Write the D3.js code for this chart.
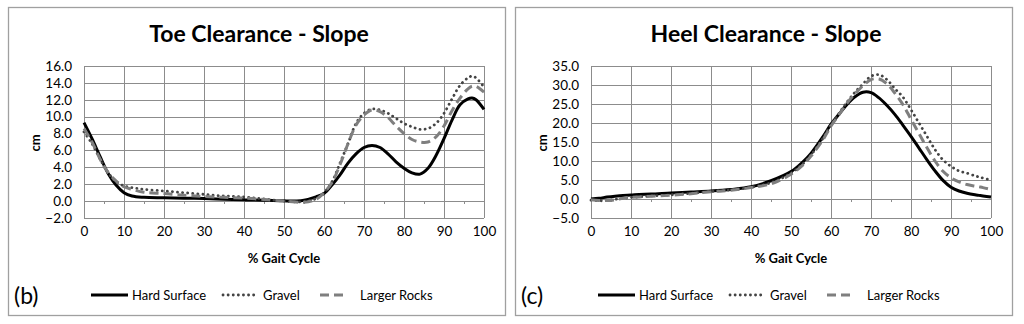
<!DOCTYPE html>
<html>
<head>
<meta charset="utf-8">
<script src="https://cdn.jsdelivr.net/npm/d3@7"></script>
<style>
  body { margin: 0; background: #fff; }
  text { font-family: Lato, "Open Sans", sans-serif; fill: #000; }
</style>
</head>
<body>
<div id="chart"></div>
<script>
//% gait cycle sample points (shared by every series)
const gaitPct = [0, 2, 4, 6, 8, 10, 12, 15, 20, 25, 30, 35, 40, 45, 50, 53, 55, 58, 60, 62, 64, 66, 68, 70, 72, 74, 76, 78, 80, 82, 84, 86, 88, 90, 92, 94, 96, 97, 98, 100];

//toe clearance (cm)
const toeHard = [9.3, 7.4, 5.3, 3.3, 1.9, 1.0, 0.6, 0.45, 0.4, 0.35, 0.3, 0.22, 0.15, 0.1, 0.03, 0.02, 0.1, 0.5, 0.9, 1.9, 3.1, 4.5, 5.6, 6.35, 6.6, 6.35, 5.6, 4.65, 3.9, 3.35, 3.2, 3.9, 5.4, 7.4, 9.6, 11.4, 12.1, 12.2, 12.0, 10.85];
const toeGravel = [8.2, 6.8, 5.0, 3.4, 2.3, 1.8, 1.6, 1.4, 1.2, 1.0, 0.8, 0.6, 0.5, 0.25, 0.0, -0.1, -0.05, 0.3, 1.0, 2.3, 4.5, 6.8, 9.2, 10.4, 10.9, 10.8, 10.4, 9.8, 9.2, 8.8, 8.5, 8.6, 9.2, 10.4, 12.1, 13.7, 14.6, 14.8, 14.6, 13.5];
const toeRocks = [8.6, 7.0, 5.0, 3.4, 2.4, 1.7, 1.4, 1.05, 0.9, 0.7, 0.55, 0.45, 0.35, 0.2, 0.0, -0.1, -0.15, 0.2, 1.0, 2.2, 4.3, 6.8, 9.0, 10.2, 10.8, 10.6, 9.9, 8.9, 8.0, 7.3, 7.0, 7.0, 7.6, 8.9, 10.7, 12.2, 13.3, 13.6, 13.6, 12.9];

//heel clearance (cm)
const heelHard = [0.0, 0.2, 0.5, 0.75, 0.95, 1.05, 1.2, 1.3, 1.6, 1.85, 2.1, 2.5, 3.2, 4.8, 7.2, 9.8, 12.0, 16.4, 19.7, 22.3, 24.9, 26.9, 28.1, 28.0, 26.6, 24.6, 22.2, 19.4, 16.5, 13.4, 10.3, 7.4, 4.9, 3.1, 2.1, 1.5, 1.1, 0.95, 0.8, 0.5];
const heelGravel = [-0.3, -0.45, -0.4, -0.1, 0.2, 0.4, 0.55, 0.8, 1.1, 1.5, 2.0, 2.4, 3.1, 4.3, 6.8, 9.3, 11.6, 16.0, 19.6, 22.5, 25.5, 28.1, 30.3, 32.3, 32.7, 31.4, 29.0, 26.8, 23.5, 20.0, 16.5, 13.0, 10.3, 8.6, 7.4, 6.8, 6.1, 5.8, 5.5, 5.0];
const heelRocks = [-0.2, -0.4, -0.4, -0.2, 0.2, 0.45, 0.55, 0.7, 1.0, 1.4, 1.9, 2.3, 3.0, 4.0, 6.5, 9.0, 11.3, 15.6, 19.2, 22.2, 25.2, 27.7, 29.8, 31.4, 31.6, 30.3, 27.8, 24.8, 21.0, 17.2, 13.5, 10.0, 7.3, 5.6, 4.5, 3.8, 3.4, 3.2, 3.0, 2.5];

//axis ticks
const xTicks = [0, 10, 20, 30, 40, 50, 60, 70, 80, 90, 100];
const xMinorTicks = [5, 15, 25, 35, 45, 55, 65, 75, 85, 95];
const toeTicks = [-2, 0, 2, 4, 6, 8, 10, 12, 14, 16];
const heelTicks = [-5, 0, 5, 10, 15, 20, 25, 30, 35];

const seriesNames = ["Hard Surface", "Gravel", "Larger Rocks"];

//line styles for the three surfaces
const styles = [
  { stroke: "#000", width: 3, dash: null, cap: "butt" },
  { stroke: "#444", width: 2.8, dash: "0.1,5", cap: "round" },
  { stroke: "#7f7f7f", width: 3, dash: "9,5", cap: "butt" }
];

const width = 1024;
const height = 324;
const panelW = 497;
const panelH = 308;
const margin = { left: 76, top: 59, plotW: 400, plotH: 152 };

const svg = d3
  .select("#chart")
  .append("svg")
  .attr("width", width)
  .attr("height", height);

function drawPanel(x0, title, tag, ticks, series) {
  const g = svg.append("g").attr("transform", `translate(${x0}, 7)`);

  //panel border
  g.append("rect")
    .attr("x", 0.5)
    .attr("y", 0.5)
    .attr("width", panelW)
    .attr("height", panelH)
    .attr("fill", "#fff")
    .attr("stroke", "#a0a0a0")
    .attr("stroke-width", 1.3);

  const plot = g
    .append("g")
    .attr("transform", `translate(${margin.left}, ${margin.top})`);

  const x = d3.scaleLinear().domain([0, 100]).range([0, margin.plotW]);
  const y = d3
    .scaleLinear()
    .domain(d3.extent(ticks))
    .range([margin.plotH, 0]);

  //gridlines
  plot.selectAll(".hgrid")
    .data(ticks)
    .enter()
    .append("line")
    .attr("x1", 0)
    .attr("x2", margin.plotW)
    .attr("y1", (d) => Math.round(y(d)) + 0.5)
    .attr("y2", (d) => Math.round(y(d)) + 0.5)
    .attr("stroke", "#8c8c8c");

  plot.selectAll(".vgrid")
    .data(xTicks)
    .enter()
    .append("line")
    .attr("x1", (d) => Math.round(x(d)) + 0.5)
    .attr("x2", (d) => Math.round(x(d)) + 0.5)
    .attr("y1", 0)
    .attr("y2", margin.plotH)
    .attr("stroke", "#8c8c8c");

  //minor ticks under the zero line
  plot.selectAll(".minor")
    .data(xMinorTicks)
    .enter()
    .append("line")
    .attr("x1", (d) => Math.round(x(d)) + 0.5)
    .attr("x2", (d) => Math.round(x(d)) + 0.5)
    .attr("y1", Math.round(y(0)))
    .attr("y2", Math.round(y(0)) + 3)
    .attr("stroke", "#8c8c8c");

  //y axis labels
  const yAxis = d3.axisLeft(y).tickValues(ticks).tickFormat(d3.format(".1f")).tickSize(0).tickPadding(12);
  plot.append("g").call(yAxis).call((a) => {
    a.select(".domain").remove();
    a.selectAll("text").style("font-size", "13.5px").style("font-family", "Lato, sans-serif");
  });

  //x axis labels
  const xAxis = d3.axisBottom(x).tickValues(xTicks).tickSize(0).tickPadding(8);
  plot.append("g")
    .attr("transform", `translate(0, ${margin.plotH})`)
    .call(xAxis)
    .call((a) => {
      a.select(".domain").remove();
      a.selectAll("text").style("font-size", "13.5px").style("font-family", "Lato, sans-serif");
    });

  //the three lines
  const lineFunc = d3
    .line()
    .x((d) => x(d[0]))
    .y((d) => y(d[1]))
    .curve(d3.curveCatmullRom.alpha(0.5));

  series.forEach((vals, i) => {
    const pts = gaitPct.map((p, j) => [p, vals[j]]);
    plot.append("path")
      .attr("d", lineFunc(pts))
      .attr("fill", "none")
      .attr("stroke", styles[i].stroke)
      .attr("stroke-width", styles[i].width)
      .attr("stroke-dasharray", styles[i].dash)
      .attr("stroke-linecap", styles[i].cap);
  });

  //title
  g.append("text")
    .attr("x", 251)
    .attr("y", 35)
    .attr("text-anchor", "middle")
    .style("font-size", "23px")
    .style("font-weight", "bold")
    .text(title);

  //axis titles
  g.append("text")
    .attr("x", margin.left + margin.plotW / 2)
    .attr("y", 256)
    .attr("text-anchor", "middle")
    .style("font-size", "13px")
    .style("font-weight", "bold")
    .text("% Gait Cycle");

  g.append("text")
    .attr("transform", `translate(32, ${margin.top + 77}) rotate(-90)`)
    .attr("text-anchor", "middle")
    .style("font-size", "13px")
    .style("font-weight", "bold")
    .text("cm");

  //panel tag
  g.append("text")
    .attr("x", 6)
    .attr("y", 297)
    .style("font-size", "23px")
    .text(tag);

  //legend
  const legX = [83, 215, 312];
  const legW = [37, 32, 23];
  const legTx = [124, 255, 352];
  seriesNames.forEach((name, i) => {
    g.append("line")
      .attr("x1", legX[i])
      .attr("x2", legX[i] + legW[i])
      .attr("y1", 288)
      .attr("y2", 288)
      .attr("stroke", styles[i].stroke)
      .attr("stroke-width", styles[i].width)
      .attr("stroke-dasharray", styles[i].dash)
      .attr("stroke-linecap", styles[i].cap);
    g.append("text")
      .attr("x", legTx[i])
      .attr("y", 293)
      .style("font-size", "13px")
      .text(name);
  });
}

drawPanel(8, "Toe Clearance - Slope", "(b)", toeTicks, [toeHard, toeGravel, toeRocks]);
drawPanel(515, "Heel Clearance - Slope", "(c)", heelTicks, [heelHard, heelGravel, heelRocks]);
</script>
</body>
</html>
